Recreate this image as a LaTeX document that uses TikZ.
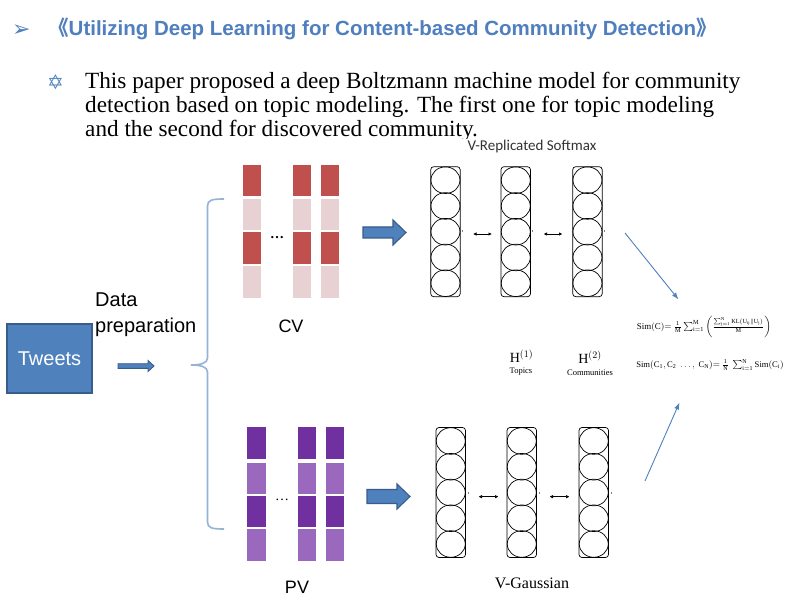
\documentclass[tikz,border=0pt]{standalone}
\usepackage{fontspec}
\usepackage{amsmath}
\setmainfont{Liberation Serif}
\setsansfont{Liberation Sans}
\newfontfamily\djv{DejaVu Sans}
\newfontfamily\cjk{Noto Sans CJK SC}
\newfontfamily\carl{Carlito}
\usetikzlibrary{arrows.meta}
\definecolor{tblue}{HTML}{4F81BD}
\definecolor{tborder}{HTML}{385D8A}
\definecolor{bracecol}{HTML}{95B3D7}
\definecolor{cvdark}{HTML}{C0504D}
\definecolor{cvlight}{HTML}{E8D1D2}
\definecolor{pvdark}{HTML}{7030A0}
\definecolor{pvlight}{HTML}{9A69BE}
\definecolor{titlecol}{HTML}{4F7FBE}
\tikzset{
  cvD/.style={fill=cvdark, draw=none},
  cvL/.style={fill=cvlight, draw=none},
  pvD/.style={fill=pvdark, draw=none},
  pvL/.style={fill=pvlight, draw=none},
  blockarrow/.style={fill=tblue, draw=tborder, line width=1.1pt, line join=miter},
  dbl/.style={{Latex[length=3.5pt,width=3.5pt]}-{Latex[length=3.5pt,width=3.5pt]}, line width=0.9pt},
  bluearrow/.style={-{Latex[length=7pt,width=5pt]}, draw=tblue, line width=0.9pt},
  dbmcol/.pic={
    \draw[line width=0.7pt, rounded corners=3pt] (0,0) rectangle (29.5,130);
    \foreach \k in {0,...,4}{
      \draw[line width=0.7pt] (14.75,13.5+25.75*\k) ellipse [x radius=14.5, y radius=13.3];
    }
  },
  tick/.style={draw=gray, line width=0.5pt}
}
\begin{document}
\begin{tikzpicture}[x=1pt,y=-1pt]
\useasboundingbox (0,0) rectangle (812,604);
\fill[white] (0,0) rectangle (812,604);

% title
\node[anchor=base west, inner sep=0, text=titlecol, font=\djv\fontsize{22}{24}\selectfont] (bul) at (12,37) {➢};
\node[anchor=base west, inner sep=0, text=titlecol, font=\sffamily\bfseries\fontsize{20.5}{22}\selectfont] (title) at (48,36) {{\cjk 《}Utilizing Deep Learning for Content-based Community Detection{\cjk 》}};

% body
\node[anchor=base west, inner sep=0, text=tblue, font=\djv\fontsize{20}{22}\selectfont] (star) at (47,90) {✡};
\node[anchor=base west, inner sep=0, font=\fontsize{23.2}{24}\selectfont] (l1) at (85,89) {This paper proposed a deep Boltzmann machine model for community};
\node[anchor=base west, inner sep=0, font=\fontsize{23.2}{24}\selectfont] (l2) at (85,113) {detection based on topic modeling. The first one for topic modeling};
\node[anchor=base west, inner sep=0, font=\fontsize{23.2}{24}\selectfont] (l3) at (85,137) {and the second for discovered community.};
\fill[white] (80,139.5) rectangle (812,604);

% Tweets
\node[fill=tblue, draw=tborder, line width=1.2pt, minimum width=85pt, minimum height=69pt, inner sep=0,
      text=white, font=\sffamily\fontsize{20}{22}\selectfont] (tweets) at (49.5,358.5) {Tweets};
\node[anchor=base west, inner sep=0, font=\sffamily\fontsize{20}{22}\selectfont] (data) at (95,307) {Data};
\node[anchor=base west, inner sep=0, font=\sffamily\fontsize{20}{22}\selectfont] (prep) at (95,333) {preparation};
\draw[blockarrow, line width=0.9pt] (118,363.7) -- (148,363.7) -- (148,360.5) -- (154,366) -- (148,371.5) -- (148,368.3) -- (118,368.3) -- cycle;

% brace
\draw[bracecol, line width=1.6pt] (224,199) .. controls (212,199) and (207.5,200) .. (207.5,206) -- (207.5,358)
  .. controls (207.5,363) and (201,365) .. (191,365) .. controls (201,365) and (207.5,367) .. (207.5,372)
  -- (207.5,522) .. controls (207.5,528) and (212,529) .. (224,529);

% CV cells
\foreach \x in {242.7,292.7,320.7}{
  \fill[cvD] (\x,165) rectangle ++(18,31.5);
  \fill[cvL] (\x,199.5) rectangle ++(18,31);
  \fill[cvD] (\x,232.5) rectangle ++(18,32);
  \fill[cvL] (\x,266.5) rectangle ++(18,31.5);
}
\node[font=\bfseries\fontsize{14}{14}\selectfont, inner sep=0] (cvdots) at (277,238) {\dots};
\node[anchor=base, inner sep=0, font=\sffamily\fontsize{18}{20}\selectfont] (cv) at (291,333) {CV};
\draw[blockarrow] (363,227) -- (393,227) -- (393,220) -- (406,232.5) -- (393,245) -- (393,238) -- (363,238) -- cycle;

% PV cells
\foreach \x in {247.3,297.7,325.7}{
  \fill[pvD] (\x,427.3) rectangle ++(18.5,31.7);
  \fill[pvL] (\x,462.7) rectangle ++(18.5,31.3);
  \fill[pvD] (\x,495.5) rectangle ++(18.5,31.8);
  \fill[pvL] (\x,528.8) rectangle ++(18.5,31.9);
}
\node[font=\fontsize{14}{14}\selectfont, inner sep=0] (pvdots) at (282,500) {\dots};
\node[anchor=base, inner sep=0, font=\sffamily\fontsize{18}{20}\selectfont] (pv) at (297,593) {PV};
\draw[blockarrow] (367,489.5) -- (397,489.5) -- (397,484) -- (410,496.5) -- (397,509) -- (397,503.5) -- (367,503.5) -- cycle;

% top DBM
\node[font=\carl\fontsize{15}{16}\selectfont, text=black!80, inner sep=0] (vrs) at (532,147) {V-Replicated Softmax};
\pic at (430.7,166.7) {dbmcol};
\pic at (501,166.7) {dbmcol};
\pic at (572.7,166.7) {dbmcol};
\coordinate (ta1) at (473,234); \coordinate (tb1) at (492,234);
\coordinate (ta2) at (543.5,234); \coordinate (tb2) at (562.5,234);
\draw[dbl] (ta1) -- (tb1);
\draw[dbl] (ta2) -- (tb2);
\draw[tick] (462.5,230) -- (462.5,232);
\draw[tick] (532.5,230) -- (532.5,232);
\draw[tick] (604.5,230) -- (604.5,232);

% bottom DBM
\pic at (436,427.5) {dbmcol};
\pic at (507,427.5) {dbmcol};
\pic at (579,427.5) {dbmcol};
\coordinate (ba1) at (478.5,496.7); \coordinate (bb1) at (498.5,496.7);
\coordinate (ba2) at (549.5,496.7); \coordinate (bb2) at (569.5,496.7);
\draw[dbl] (ba1) -- (bb1);
\draw[dbl] (ba2) -- (bb2);
\draw[tick] (468,492) -- (468,494);
\draw[tick] (539,492) -- (539,494);
\draw[tick] (611,492) -- (611,494);
\node[font=\fontsize{16}{18}\selectfont, inner sep=0] (vg) at (532,583) {V-Gaussian};

% H labels
\node[font=\fontsize{14}{14}\selectfont, inner sep=0] (h1) at (521.5,356) {H$^{(1)}$};
\node[font=\fontsize{8.5}{9}\selectfont, inner sep=0] (topics) at (521,372) {Topics};
\node[font=\fontsize{14}{14}\selectfont, inner sep=0] (h2) at (590,357) {H$^{(2)}$};
\node[font=\fontsize{8.5}{9}\selectfont, inner sep=0] (comm) at (590,373) {Communities};

% formulas
\node[font=\fontsize{8.9}{10}\selectfont, inner sep=0] (f1) at (704,327)
  {$\mathrm{Sim(C)}{=}\ \frac{1}{\mathrm{M}}\sum_{\mathrm{i=1}}^{\mathrm{M}}\left(\frac{\sum_{\mathrm{j=1}}^{\mathrm{N}}\mathrm{KL}(\mathrm{U_{ij}}\|\mathrm{U_j})}{\mathrm{M}}\right)$};
\node[font=\fontsize{8.6}{10}\selectfont, inner sep=0] (f2) at (710,365)
  {$\mathrm{Sim}(\mathrm{C_1},\mathrm{C_2}\ \ldots,\ \mathrm{C_N}){=}\ \frac{1}{\mathrm{N}}\ \sum_{\mathrm{i=1}}^{\mathrm{N}}\mathrm{Sim}(\mathrm{C_i})$};

% arrows to formulas
\coordinate (s1) at (625,233);
\coordinate (e1) at (678.5,299.5);
\coordinate (s2) at (645,481);
\coordinate (e2) at (679.5,402.5);
\draw[bluearrow] (s1) -- (e1);
\draw[bluearrow] (s2) -- (e2);
\end{tikzpicture}
\end{document}
